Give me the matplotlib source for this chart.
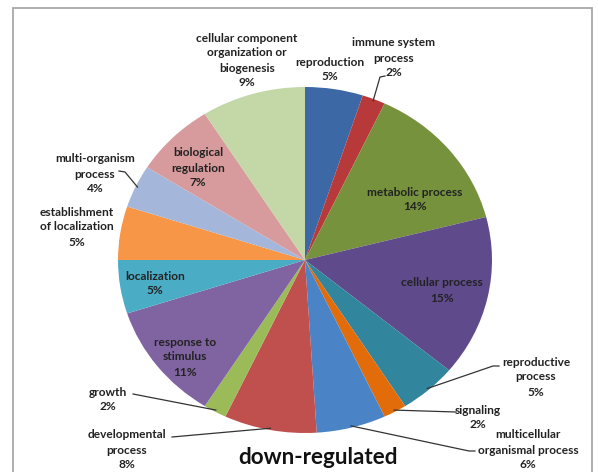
import matplotlib
matplotlib.use("Agg")
import matplotlib.pyplot as plt
from matplotlib.patches import Rectangle
from matplotlib.lines import Line2D
import numpy as np

categories = ["reproduction", "immune system\nprocess", "metabolic process", "cellular process",
              "reproductive\nprocess", "signaling", "multicellular\norganismal process",
              "developmental\nprocess", "growth", "response to\nstimulus", "localization",
              "establishment\nof localization", "multi-organism\nprocess", "biological\nregulation",
              "cellular component\norganization or\nbiogenesis"]
values = [5, 2, 14, 15, 5, 2, 6, 8, 2, 11, 5, 5, 4, 7, 9]
colors = ["#3C69A6", "#B8393A", "#76923C", "#5F4A8B", "#31859C", "#E36C0A",
          "#4A84C6", "#C0504D", "#9BBB59", "#8064A2", "#4BACC6", "#F79646",
          "#A4B7DA", "#D89B9D", "#C4D7A7"]
title = "down-regulated"

W, H = 598, 472
CX, CY, RX, RY = 305, 260, 187, 173

plt.rcParams['font.family'] = ['Lato', 'DejaVu Sans']
fig = plt.figure(figsize=(W / 100, H / 100), dpi=100)
fig.patch.set_facecolor("white")

# frame
fig.add_artist(Rectangle((13 / W, -0.02), (592 - 13) / W, 1 - 8 / H + 0.02,
                         transform=fig.transFigure, fill=False,
                         edgecolor="#A8A8A8", linewidth=1.3))

ax = fig.add_axes([(CX - RX) / W, (H - CY - RY) / H, 2 * RX / W, 2 * RY / H])
wedges, _ = ax.pie(values, colors=colors, startangle=90, counterclock=False,
                   wedgeprops=dict(linewidth=0))
ax.set_aspect('auto')
ax.set_xlim(-1, 1)
ax.set_ylim(-1, 1)
ax.axis('off')

# label positions (pixel centers of first text line) and optional leader start points
label_pos = [(330, 62), (394, 43), (415, 192), (442, 283), (536, 362), (478, 410),
             (528, 435), (127, 435), (108, 392), (185, 342), (155, 276), (77, 212),
             (95, 159), (198, 153), (247, 38)]
leaders = {1: [(385, 76), (380, 77)], 4: [(499, 366), (493, 366)],
           5: [(456, 412)], 6: [(475, 451), (469, 451)],
           7: [(172, 437)], 8: [(133, 394)], 12: [(119, 171), (125, 172)]}

def pix_to_data(px, py):
    return (px - CX) / RX, (CY - py) / RY

total = sum(values)
cum = np.cumsum([0] + values)
for i, (cat, v) in enumerate(zip(categories, values)):
    pct = f"{round(100 * v / total)}%"
    px, py = label_pos[i]
    lines = cat.split("\n") + [pct]
    for k, ln in enumerate(lines):
        x, y = pix_to_data(px, py + 15 * k)
        ax.text(x, y, ln, ha="center", va="center", fontsize=8.6,
                fontweight="bold", color="#222222", clip_on=False)
    if i in leaders:
        mid = (cum[i] + cum[i + 1]) / 2 / total
        ang = np.deg2rad(90 - 360 * mid)
        pts = [pix_to_data(*p) for p in leaders[i]] + [(0.99 * np.cos(ang), 0.99 * np.sin(ang))]
        xs, ys = zip(*pts)
        ax.add_line(Line2D(xs, ys, color="#333333", linewidth=0.9, clip_on=False))

fig.text(318 / W, 1 - 457 / H, title, ha="center", va="center",
         fontsize=16.2, fontweight="bold", color="#111111")

fig.savefig("out.png", dpi=100, facecolor="white")
